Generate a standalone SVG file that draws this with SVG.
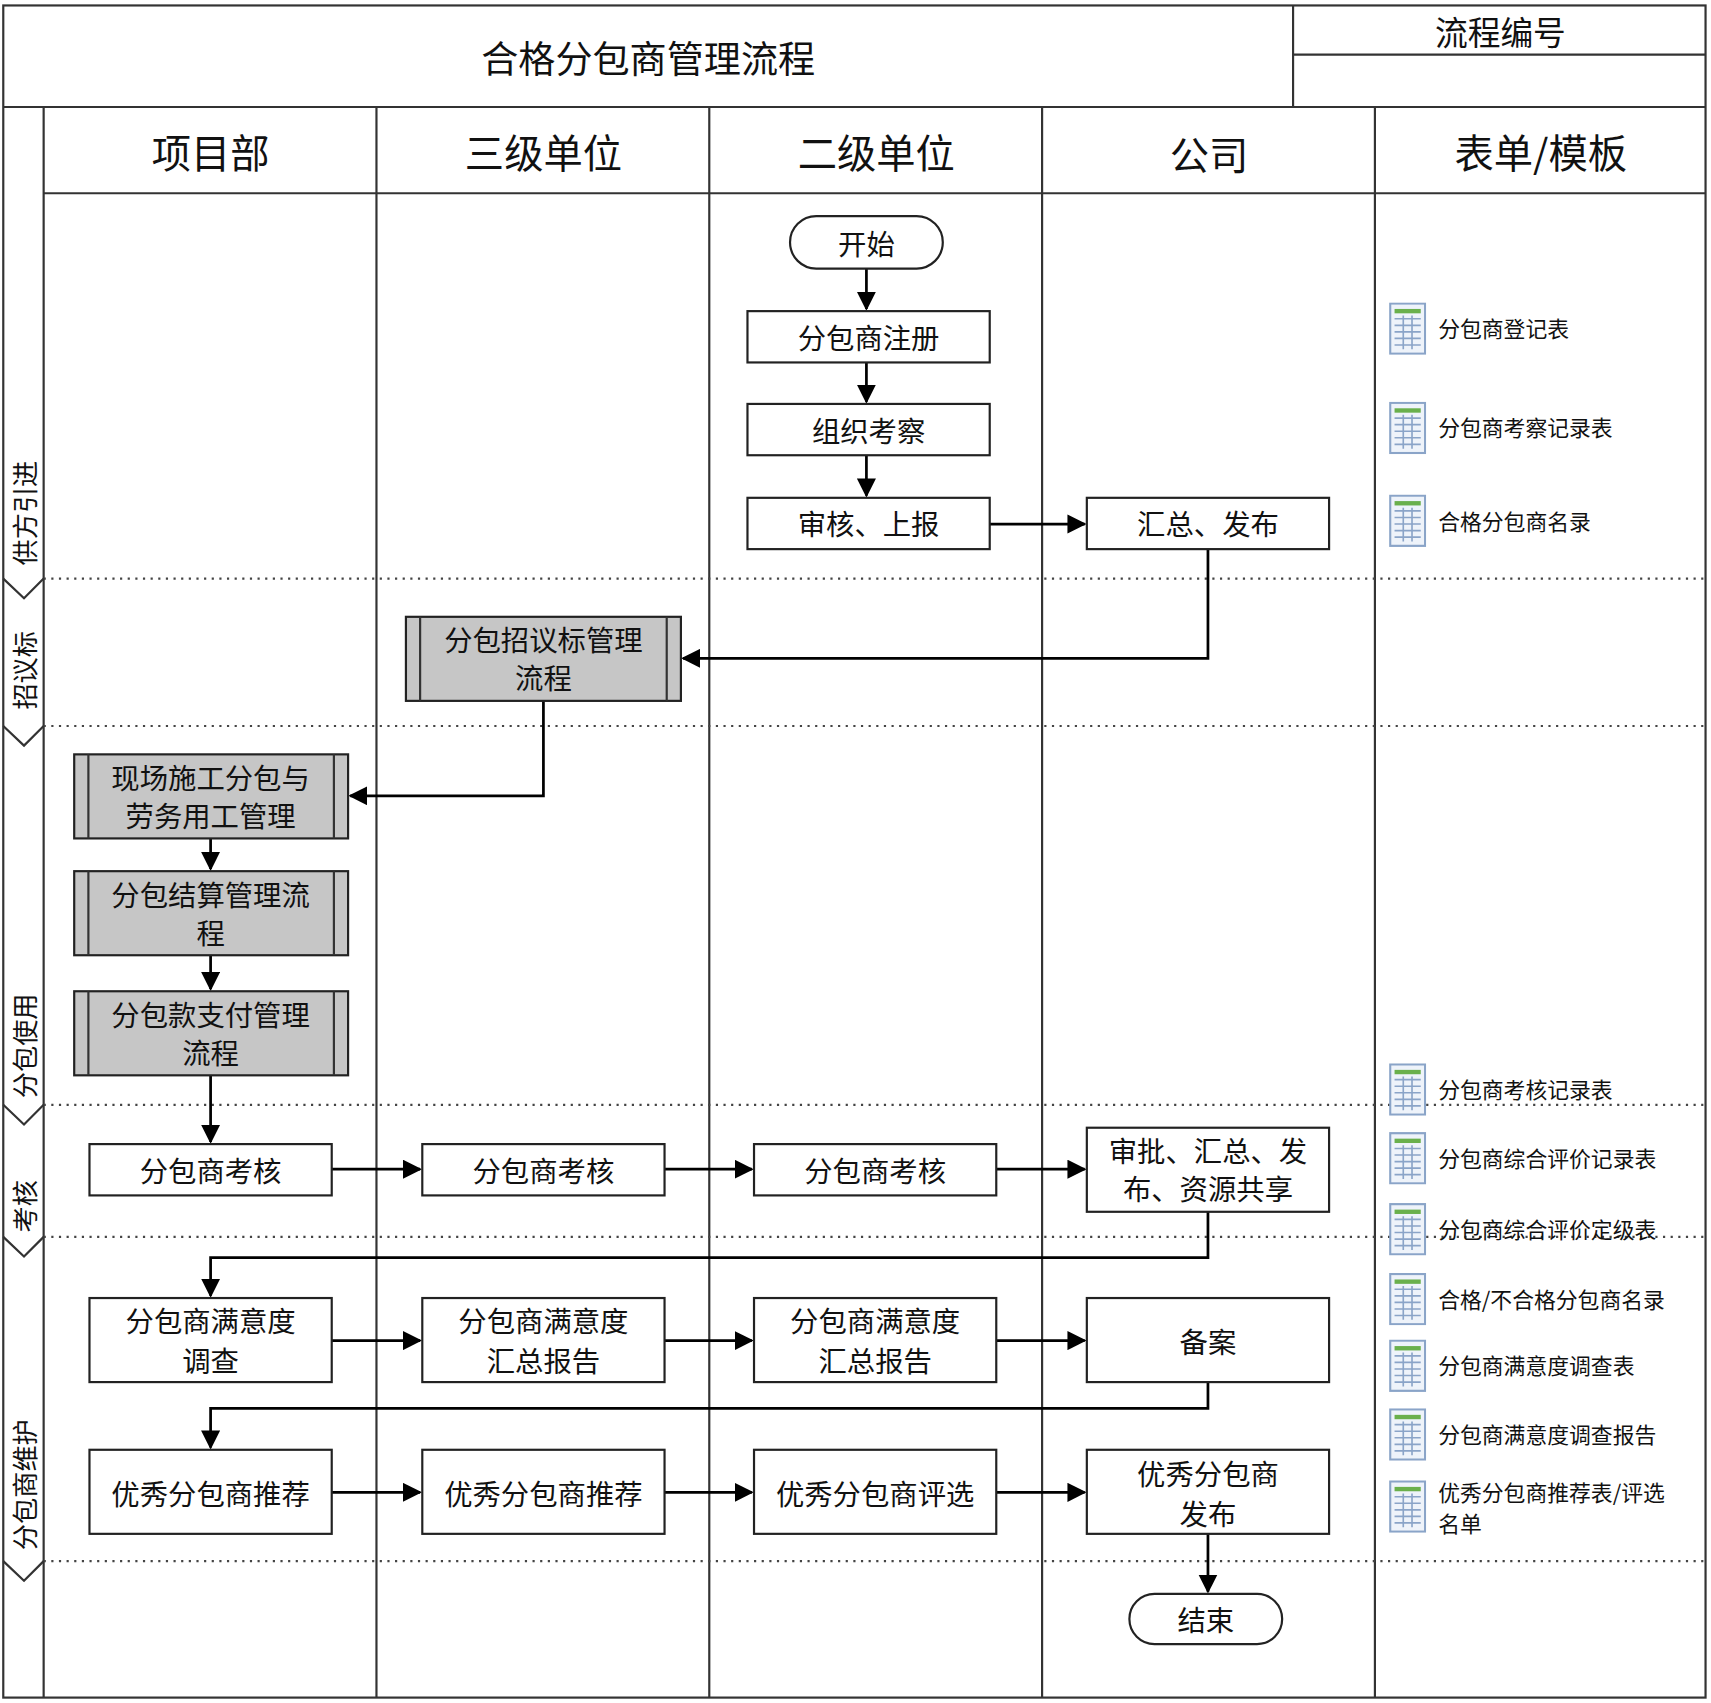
<svg xmlns="http://www.w3.org/2000/svg" width="1711" height="1703" viewBox="0 0 1711 1703">
<defs>
<style>
text{font-family:"Noto Sans CJK SC","Liberation Sans",sans-serif;fill:#111}
.n{font-size:26px;text-anchor:middle;dominant-baseline:central}
.h{font-size:36px;text-anchor:middle;dominant-baseline:central}
.f{font-size:20px;dominant-baseline:central}
.ph{font-size:24px;text-anchor:middle;dominant-baseline:central}
.box{fill:#fff;stroke:#222;stroke-width:2}
.gp{fill:#c6c6c6;stroke:#222;stroke-width:2}
.ln{stroke:#333;stroke-width:2;fill:none}
.dot{stroke:#444;stroke-width:2;stroke-dasharray:2 5;fill:none}
.c{stroke:#000;stroke-width:2.5;fill:none;marker-end:url(#a)}
</style>
<marker id="a" viewBox="0 0 10 10" refX="9" refY="5" markerWidth="7" markerHeight="7" orient="auto" markerUnits="strokeWidth"><path d="M0,0L10,5L0,10z" fill="#000"/></marker>
<symbol id="ic" viewBox="0 0 34 48">
<rect x="1" y="1" width="32" height="46" fill="#eef3fa" stroke="#8aa4c8" stroke-width="2"/>
<rect x="5" y="6" width="24" height="4" fill="#6ab04c"/>
<path d="M5 15H29M5 21H29M5 27H29M5 33H29M5 39H29M13 12V43M21 12V43" stroke="#8aa4c8" stroke-width="1.5"/>
</symbol>
</defs>
<rect width="1711" height="1703" fill="#fff"/>
<g transform="scale(1.0912 1.0917)">
<g id="frame">
<rect x="3" y="5" width="1560" height="1550" class="ln"/>
<line x1="3" y1="98" x2="1563" y2="98" class="ln"/>
<line x1="1185" y1="5" x2="1185" y2="98" class="ln"/>
<line x1="1185" y1="50" x2="1563" y2="50" class="ln"/>
<line x1="40" y1="177" x2="1563" y2="177" class="ln"/>
<line x1="40" y1="98" x2="40" y2="1555" class="ln"/>
<line x1="345" y1="98" x2="345" y2="1555" class="ln"/>
<line x1="650" y1="98" x2="650" y2="1555" class="ln"/>
<line x1="955" y1="98" x2="955" y2="1555" class="ln"/>
<line x1="1260" y1="98" x2="1260" y2="1555" class="ln"/>
<text x="594" y="52" class="h" style="font-size:34px">合格分包商管理流程</text>
<text x="1375" y="28" class="h" style="font-size:30px">流程编号</text>
<text x="193" y="138" class="h">项目部</text>
<text x="498" y="138" class="h">三级单位</text>
<text x="803" y="138" class="h">二级单位</text>
<text x="1108" y="140" class="h">公司</text>
<text x="1412" y="138" class="h">表单/模板</text>
</g>
<g id="phases">
<path d="M40 530H1563M40 665H1563M40 1012H1563M40 1133H1563M40 1430H1563" class="dot"/>
<path d="M3 530L22 548L40 530M3 665L22 683L40 665M3 1012L22 1030L40 1012M3 1133L22 1151L40 1133M3 1430L22 1448L40 1430" class="ln"/>
<text transform="translate(22 470) rotate(-90)" class="ph">供方引进</text>
<text transform="translate(22 614) rotate(-90)" class="ph">招议标</text>
<text transform="translate(22 958) rotate(-90)" class="ph">分包使用</text>
<text transform="translate(22 1105) rotate(-90)" class="ph">考核</text>
<text transform="translate(22 1360) rotate(-90)" class="ph">分包商维护</text>
</g>
<g id="connectors">
<path d="M794 246V283" class="c"/><path d="M794 332V368" class="c"/><path d="M794 417V454" class="c"/><path d="M907 480H994" class="c"/>
<path d="M1107 503V603H626" class="c"/>
<path d="M498 642V729H321" class="c"/>
<path d="M193 768V796" class="c"/><path d="M193 875V906" class="c"/><path d="M193 985V1046" class="c"/>
<path d="M304 1071H385" class="c"/><path d="M609 1071H689" class="c"/><path d="M913 1071H994" class="c"/>
<path d="M1107 1110V1152H193V1187" class="c"/>
<path d="M304 1228H385" class="c"/><path d="M609 1228H689" class="c"/><path d="M913 1228H994" class="c"/>
<path d="M1107 1266V1290H193V1326" class="c"/>
<path d="M304 1367H385" class="c"/><path d="M609 1367H689" class="c"/><path d="M913 1367H994" class="c"/>
<path d="M1107 1405V1458" class="c"/>
</g>
<g id="n-start"><rect x="724" y="198" width="140" height="48" rx="24" class="box"/><text x="794" y="222" class="n">开始</text></g>
<g id="n-reg"><rect x="685" y="285" width="222" height="47" class="box"/><text x="796" y="308" class="n">分包商注册</text></g>
<g id="n-insp"><rect x="685" y="370" width="222" height="47" class="box"/><text x="796" y="393" class="n">组织考察</text></g>
<g id="n-audit"><rect x="685" y="456" width="222" height="47" class="box"/><text x="796" y="479" class="n">审核、上报</text></g>
<g id="n-pub"><rect x="996" y="456" width="222" height="47" class="box"/><text x="1107" y="479" class="n">汇总、发布</text></g>
<g id="n-bid"><rect x="372" y="565" width="252" height="77" class="gp"/><path d="M385 565V642M611 565V642" class="ln"/><text x="498" y="585" class="n">分包招议标管理</text><text x="498" y="620" class="n">流程</text></g>
<g id="n-site"><rect x="68" y="691" width="251" height="77" class="gp"/><path d="M81 691V768M306 691V768" class="ln"/><text x="193" y="711" class="n">现场施工分包与</text><text x="193" y="746" class="n">劳务用工管理</text></g>
<g id="n-settle"><rect x="68" y="798" width="251" height="77" class="gp"/><path d="M81 798V875M306 798V875" class="ln"/><text x="193" y="818" class="n">分包结算管理流</text><text x="193" y="853" class="n">程</text></g>
<g id="n-pay"><rect x="68" y="908" width="251" height="77" class="gp"/><path d="M81 908V985M306 908V985" class="ln"/><text x="193" y="928" class="n">分包款支付管理</text><text x="193" y="963" class="n">流程</text></g>
<g id="n-k1"><rect x="82" y="1048" width="222" height="47" class="box"/><text x="193" y="1071" class="n">分包商考核</text></g>
<g id="n-k2"><rect x="387" y="1048" width="222" height="47" class="box"/><text x="498" y="1071" class="n">分包商考核</text></g>
<g id="n-k3"><rect x="691" y="1048" width="222" height="47" class="box"/><text x="802" y="1071" class="n">分包商考核</text></g>
<g id="n-k4"><rect x="996" y="1033" width="222" height="77" class="box"/><text x="1107" y="1053" class="n">审批、汇总、发</text><text x="1107" y="1088" class="n">布、资源共享</text></g>
<g id="n-s1"><rect x="82" y="1189" width="222" height="77" class="box"/><text x="193" y="1209" class="n">分包商满意度</text><text x="193" y="1245" class="n">调查</text></g>
<g id="n-s2"><rect x="387" y="1189" width="222" height="77" class="box"/><text x="498" y="1209" class="n">分包商满意度</text><text x="498" y="1245" class="n">汇总报告</text></g>
<g id="n-s3"><rect x="691" y="1189" width="222" height="77" class="box"/><text x="802" y="1209" class="n">分包商满意度</text><text x="802" y="1245" class="n">汇总报告</text></g>
<g id="n-s4"><rect x="996" y="1189" width="222" height="77" class="box"/><text x="1107" y="1228" class="n">备案</text></g>
<g id="n-e1"><rect x="82" y="1328" width="222" height="77" class="box"/><text x="193" y="1367" class="n">优秀分包商推荐</text></g>
<g id="n-e2"><rect x="387" y="1328" width="222" height="77" class="box"/><text x="498" y="1367" class="n">优秀分包商推荐</text></g>
<g id="n-e3"><rect x="691" y="1328" width="222" height="77" class="box"/><text x="802" y="1367" class="n">优秀分包商评选</text></g>
<g id="n-e4"><rect x="996" y="1328" width="222" height="77" class="box"/><text x="1107" y="1349" class="n">优秀分包商</text><text x="1107" y="1385" class="n">发布</text></g>
<g id="n-end"><rect x="1035" y="1460" width="140" height="46" rx="23" class="box"/><text x="1105" y="1483" class="n">结束</text></g>
<g id="forms">
<use href="#ic" x="1273" y="277" width="34" height="48"/><text x="1318" y="300" class="f">分包商登记表</text>
<use href="#ic" x="1273" y="368" width="34" height="48"/><text x="1318" y="391" class="f">分包商考察记录表</text>
<use href="#ic" x="1273" y="453" width="34" height="48"/><text x="1318" y="477" class="f">合格分包商名录</text>
<use href="#ic" x="1273" y="974" width="34" height="48"/><text x="1318" y="997" class="f">分包商考核记录表</text>
<use href="#ic" x="1273" y="1037" width="34" height="48"/><text x="1318" y="1060" class="f">分包商综合评价记录表</text>
<use href="#ic" x="1273" y="1102" width="34" height="48"/><text x="1318" y="1125" class="f">分包商综合评价定级表</text>
<use href="#ic" x="1273" y="1166" width="34" height="48"/><text x="1318" y="1189" class="f">合格/不合格分包商名录</text>
<use href="#ic" x="1273" y="1227" width="34" height="48"/><text x="1318" y="1250" class="f">分包商满意度调查表</text>
<use href="#ic" x="1273" y="1290" width="34" height="48"/><text x="1318" y="1313" class="f">分包商满意度调查报告</text>
<use href="#ic" x="1273" y="1356" width="34" height="48"/><text x="1318" y="1366" class="f">优秀分包商推荐表/评选</text><text x="1318" y="1395" class="f">名单</text>
</g>
</g>
</svg>
